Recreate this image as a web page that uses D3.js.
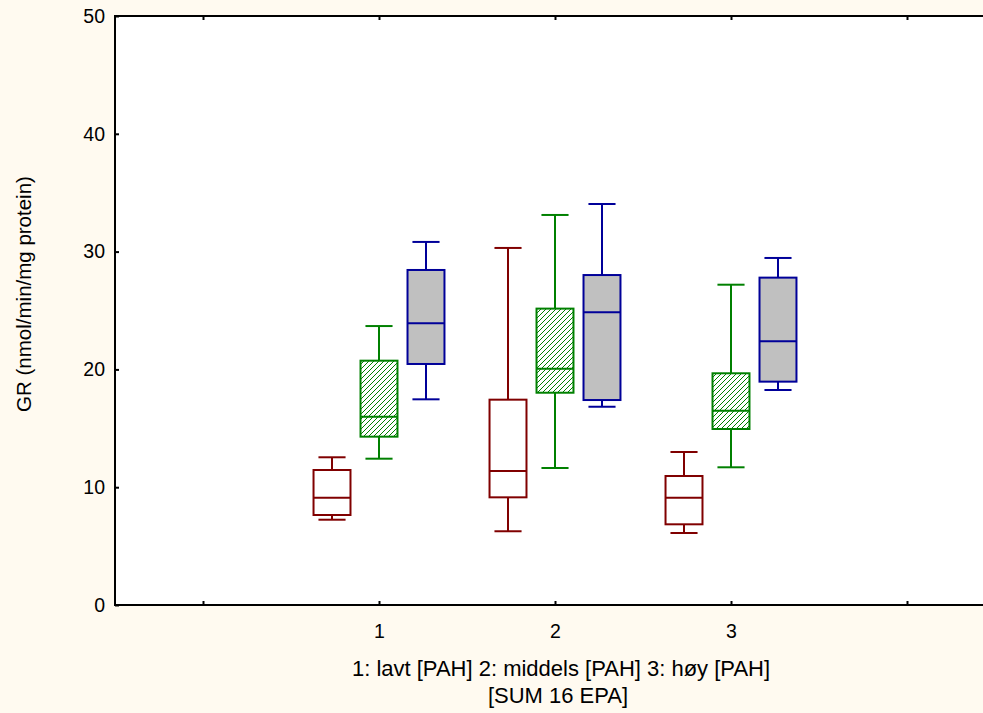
<!DOCTYPE html>
<html>
<head>
<meta charset="utf-8">
<script src="https://cdn.jsdelivr.net/npm/d3@7"></script>
<style>
  html, body { margin: 0; padding: 0; background: #FFFAF0; }
  svg { display: block; font-family: "Liberation Sans", Arial, sans-serif; }
</style>
</head>
<body>
<svg id="chart" width="983" height="713"></svg>
<script>
// PAH groups on the x axis
const groups = [1, 2, 3];
const yTicks = [0, 10, 20, 30, 40, 50];
const xTickPositions = [0, 1, 2, 3, 4];

// Series (one box per group): [min, q1, median, q3, max]
const seriesA = [
  [7.24, 7.64, 9.11, 11.46, 12.54],
  [6.26, 9.14, 11.38, 17.43, 30.31],
  [6.11, 6.85, 9.11, 10.95, 12.99]
];
const seriesB = [
  [12.42, 14.29, 15.99, 20.74, 23.68],
  [11.63, 18.02, 20.06, 25.16, 33.11],
  [11.69, 14.94, 16.49, 19.67, 27.19]
];
const seriesC = [
  [17.46, 20.46, 23.91, 28.44, 30.82],
  [16.83, 17.40, 24.85, 28.01, 34.04],
  [18.25, 18.96, 22.39, 27.79, 29.46]
];

const svg = d3.select("#chart");
const margin = { left: 115, top: 16, bottom: 605, right: 995 };

const x = d3.scaleLinear().domain([-0.5, 4.5]).range([margin.left, margin.right]);
const y = d3.scaleLinear().domain([0, 50]).range([margin.bottom, margin.top]);

// hatch pattern for the middle series
const defs = svg.append("defs");
defs.append("pattern")
  .attr("id", "hatch")
  .attr("patternUnits", "userSpaceOnUse")
  .attr("width", 5).attr("height", 5)
  .call(p => {
    p.append("rect").attr("width", 5).attr("height", 5).attr("fill", "#fff");
    p.append("path")
      .attr("d", "M-1,1 l2,-2 M0,5 l5,-5 M4,6 l2,-2")
      .attr("stroke", "#008000").attr("stroke-width", 1);
  });

// plot area
svg.append("rect")
  .attr("x", x(-0.5)).attr("y", y(50))
  .attr("width", x(4.5) - x(-0.5)).attr("height", y(0) - y(50))
  .attr("fill", "#fff");

const styles = [
  { data: seriesA, stroke: "#800000", fill: "#fff", offset: -0.267 },
  { data: seriesB, stroke: "#008000", fill: "url(#hatch)", offset: 0 },
  { data: seriesC, stroke: "#000099", fill: "#C0C0C0", offset: 0.267 }
];
const boxHalf = 0.105;
const capHalf = 0.077;

styles.forEach(s => {
  const g = svg.append("g").attr("stroke", s.stroke).attr("stroke-width", 2).attr("fill", "none");
  s.data.forEach((d, i) => {
    const cx = groups[i] + s.offset;
    const [mn, q1, md, q3, mx] = d;
    // whiskers
    g.append("line").attr("x1", x(cx)).attr("x2", x(cx)).attr("y1", y(q3)).attr("y2", y(mx));
    g.append("line").attr("x1", x(cx)).attr("x2", x(cx)).attr("y1", y(q1)).attr("y2", y(mn));
    g.append("line").attr("x1", x(cx - capHalf)).attr("x2", x(cx + capHalf)).attr("y1", y(mx)).attr("y2", y(mx));
    g.append("line").attr("x1", x(cx - capHalf)).attr("x2", x(cx + capHalf)).attr("y1", y(mn)).attr("y2", y(mn));
    // box
    g.append("rect")
      .attr("x", x(cx - boxHalf)).attr("width", x(cx + boxHalf) - x(cx - boxHalf))
      .attr("y", y(q3)).attr("height", y(q1) - y(q3))
      .attr("fill", s.fill);
    // median
    g.append("line").attr("x1", x(cx - boxHalf)).attr("x2", x(cx + boxHalf)).attr("y1", y(md)).attr("y2", y(md));
  });
});

// frame
svg.append("rect")
  .attr("x", x(-0.5)).attr("y", y(50))
  .attr("width", x(4.5) - x(-0.5)).attr("height", y(0) - y(50))
  .attr("fill", "none").attr("stroke", "#000").attr("stroke-width", 2);

// axes with inward ticks
const yAxis = svg.append("g").attr("transform", `translate(${x(-0.5)},0)`)
  .call(d3.axisLeft(y).tickValues(yTicks).tickSizeInner(-4).tickSizeOuter(0).tickPadding(10));
const xAxis = svg.append("g").attr("transform", `translate(0,${y(0)})`)
  .call(d3.axisBottom(x).tickValues(xTickPositions).tickSizeInner(-4).tickSizeOuter(0).tickPadding(19)
    .tickFormat(d => groups.includes(d) ? String(d) : ""));
const xTop = svg.append("g").attr("transform", `translate(0,${y(50)})`)
  .call(d3.axisTop(x).tickValues(xTickPositions).tickSizeInner(-4).tickSizeOuter(0).tickFormat(""));

[yAxis, xAxis, xTop].forEach(a => {
  a.select(".domain").remove();
  a.selectAll(".tick line").attr("stroke", "#000").attr("stroke-width", 2);
  a.selectAll(".tick text").attr("fill", "#000").style("font-size", "19.5px")
    .style("font-family", "'Liberation Sans', Arial, sans-serif");
});

// axis titles
svg.append("text")
  .attr("x", 561).attr("y", 676)
  .attr("text-anchor", "middle").style("font-size", "22px")
  .text("1: lavt [PAH] 2: middels [PAH] 3: høy [PAH]");
svg.append("text")
  .attr("x", 558).attr("y", 703)
  .attr("text-anchor", "middle").style("font-size", "22px")
  .text("[SUM 16 EPA]");
svg.append("text")
  .attr("transform", "translate(31,294) rotate(-90)")
  .attr("text-anchor", "middle").style("font-size", "20.5px")
  .text("GR (nmol/min/mg protein)");
</script>
</body>
</html>
